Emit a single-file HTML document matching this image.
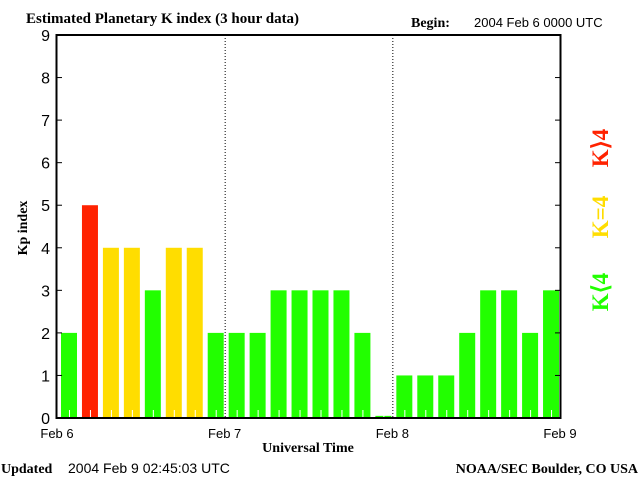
<!DOCTYPE html>
<html><head><meta charset="utf-8"><style>
body{margin:0;background:#fff;}
svg{display:block;font-family:"Liberation Sans",sans-serif;}
.serif{font-family:"Liberation Serif",serif;font-weight:bold;}
</style></head><body>
<svg id="chart" width="640" height="480">
<text class="serif" x="26" y="23" font-size="15">Estimated Planetary K index (3 hour data)</text>
<text class="serif" x="411" y="27" font-size="14">Begin:</text>
<text x="474" y="27" font-size="13">2004 Feb 6 0000 UTC</text>
<g id="bars"></g>
<g id="axes"></g>
<text class="serif" transform="translate(27,228) rotate(-90)" text-anchor="middle" font-size="14">Kp index</text>
<text class="serif" x="308" y="452" text-anchor="middle" font-size="14">Universal Time</text>
<text class="serif" transform="translate(608,148) rotate(-90)" text-anchor="middle" font-size="23" fill="#ff2200" font-weight="normal">K⟩4</text>
<text class="serif" transform="translate(608,217) rotate(-90)" text-anchor="middle" font-size="23" fill="#ffdd00" font-weight="normal">K=4</text>
<text class="serif" transform="translate(608,292) rotate(-90)" text-anchor="middle" font-size="23" fill="#22ff00" font-weight="normal">K⟨4</text>
<text class="serif" x="1" y="473" font-size="14">Updated</text>
<text x="68" y="473" font-size="14">2004 Feb  9 02:45:03 UTC</text>
<text class="serif" x="638" y="473" text-anchor="end" font-size="14">NOAA/SEC Boulder, CO USA</text>
</svg>
<script>
const kpValues=[2,5,4,4,3,4,4,2, 2,2,3,3,3,3,2,0.05, 1,1,1,2,3,3,2,3];
const yTicks=[0,1,2,3,4,5,6,7,8,9];
const dayLabels=["Feb 6","Feb 7","Feb 8","Feb 9"];
const NS="http://www.w3.org/2000/svg";
const L=57,R=560,T=35,B=418;
const slot=(R-L)/kpValues.length;
function y(v){return B-(v/9)*(B-T);}
function x(i){return L+i*slot;}
function mk(tag,a,parent){const e=document.createElementNS(NS,tag);for(const k in a)e.setAttribute(k,a[k]);parent.appendChild(e);return e;}
const bars=document.getElementById('bars'),axes=document.getElementById('axes');
kpValues.forEach((v,i)=>{
  const c=v>4?'#ff2200':(v==4?'#ffdd00':'#22ff00');
  const r=mk('rect',{x:x(i)+4,y:y(v),width:16,height:B-y(v),fill:c},bars);
  
  
  const t=mk('line',{x1:x(i)+12.5,x2:x(i)+12.5,y1:B-8,y2:B,stroke:'#fff'},bars);
  
  
});
[1,2].forEach(d=>{
  const ln=mk('line',{x1:x(d*8)+0.5,x2:x(d*8)+0.5,y1:T,y2:B,stroke:'#000','stroke-dasharray':'1,2'},axes);
  
  
});
const fr=mk('rect',{x:L-0.5,y:T,width:R-L+1,height:B-T,fill:'none',stroke:'#000','stroke-width':2},axes);


yTicks.forEach(v=>{
  const yy=y(v);
  mk('line',{x1:L,x2:L+5,y1:yy,y2:yy,stroke:'#000'},axes);
  mk('line',{x1:R-5,x2:R,y1:yy,y2:yy,stroke:'#000'},axes);
  const t=mk('text',{x:50,y:yy+6,'text-anchor':'end','font-size':16},axes);
  t.textContent=v;
  
  
});
dayLabels.forEach((d,i)=>{
  const t=mk('text',{x:x(i*8),y:438,'text-anchor':'middle','font-size':13},axes);
  t.textContent=d;
  
  
});
</script>
</body></html>
